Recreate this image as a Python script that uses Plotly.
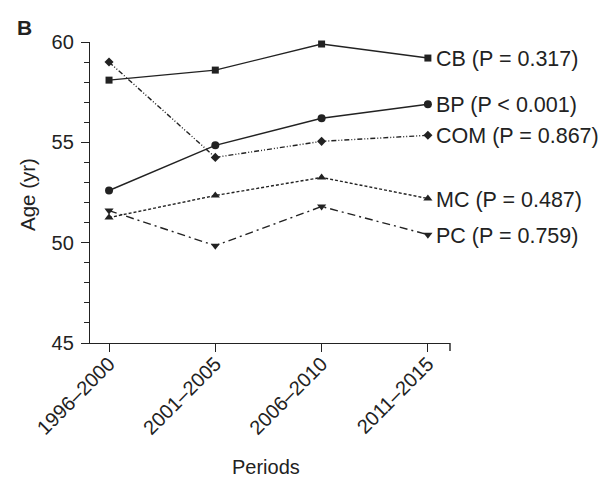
import plotly.graph_objects as go

periods = ["1996\u20132000", "2001\u20132005", "2006\u20132010", "2011\u20132015"]
cb = [58.1, 58.6, 59.9, 59.2]
bp = [52.6, 54.85, 56.2, 56.9]
com = [59.0, 54.25, 55.05, 55.35]
mc = [51.25, 52.35, 53.25, 52.2]
pc = [51.6, 49.85, 51.8, 50.4]
labels = ["CB (P = 0.317)", "BP (P < 0.001)", "COM (P = 0.867)", "MC (P = 0.487)", "PC (P = 0.759)"]

series = [
    (cb, "square", 7, "solid"),
    (bp, "circle", 8, "solid"),
    (com, "diamond", 7, "5px,2px,1px,2px,1px,2px"),
    (mc, "triangle-up", 8, "3px,2px"),
    (pc, "triangle-down", 8, "8px,4px,2px,4px"),
]

INK = "#222"
FONT = "Arial, Liberation Sans, sans-serif"
xs = list(range(len(periods)))
fig = go.Figure()
for (vals, sym, sz, dash), lab in zip(series, labels):
    fig.add_trace(go.Scatter(
        x=xs, y=vals, mode="lines+markers",
        line=dict(color=INK, width=1.4, dash=dash),
        marker=dict(symbol=sym, size=sz, color=INK),
        showlegend=False, name=lab, cliponaxis=False,
    ))
    fig.add_annotation(x=xs[-1], y=vals[-1], text=lab, showarrow=False,
                       xanchor="left", yanchor="middle", xshift=6, yshift=-1,
                       font=dict(size=21.5, color=INK, family=FONT))

# end tick at right end of x axis
fig.add_shape(type="line", xref="paper", yref="paper", x0=1, x1=1, y0=0, y1=-8/301,
              line=dict(color=INK, width=1.4))

fig.update_layout(
    width=611, height=478,
    margin=dict(l=90, r=161, t=42, b=135),
    plot_bgcolor="white", paper_bgcolor="white",
    font=dict(family=FONT, size=20, color=INK),
    xaxis=dict(range=[-0.179, 3.208], tickvals=xs, ticktext=periods, tickangle=-45,
               showline=True, linecolor=INK, linewidth=1.4, ticks="outside",
               ticklen=8, tickcolor=INK, tickwidth=1.4, showgrid=False, zeroline=False,
               automargin=False, tickfont=dict(size=20), ticklabelstandoff=-8),
    yaxis=dict(range=[45, 60], tickvals=[45, 50, 55, 60], showline=True,
               linecolor=INK, linewidth=1.4, ticks="outside", ticklen=8, tickwidth=1.4,
               tickcolor=INK, showgrid=False, zeroline=False, automargin=False,
               ticklabelstandoff=3, tickfont=dict(size=20),
               minor=dict(dtick=1, ticks="outside", ticklen=5, tickcolor=INK, tickwidth=1.4)),
)
# axis titles
fig.add_annotation(xref="paper", yref="paper", x=(230 - 90) / 360, y=-(467 - 343) / 301,
                   text="Periods", showarrow=False, xanchor="left", yanchor="middle",
                   font=dict(size=20, color=INK))
fig.add_annotation(xref="paper", yref="paper", x=(27 - 90) / 360, y=(343 - 195) / 301,
                   text="Age (yr)", showarrow=False, textangle=-90, xanchor="center",
                   yanchor="middle", font=dict(size=20.5, color=INK))
fig.add_annotation(xref="paper", yref="paper", x=(24.5 - 90) / 360, y=(343 - 27) / 301,
                   text="<b>B</b>", showarrow=False, xanchor="center", yanchor="middle",
                   font=dict(size=21, color=INK))
fig.write_html("out.html", config={"displayModeBar": False},
               post_script="document.body.style.margin='0';")
